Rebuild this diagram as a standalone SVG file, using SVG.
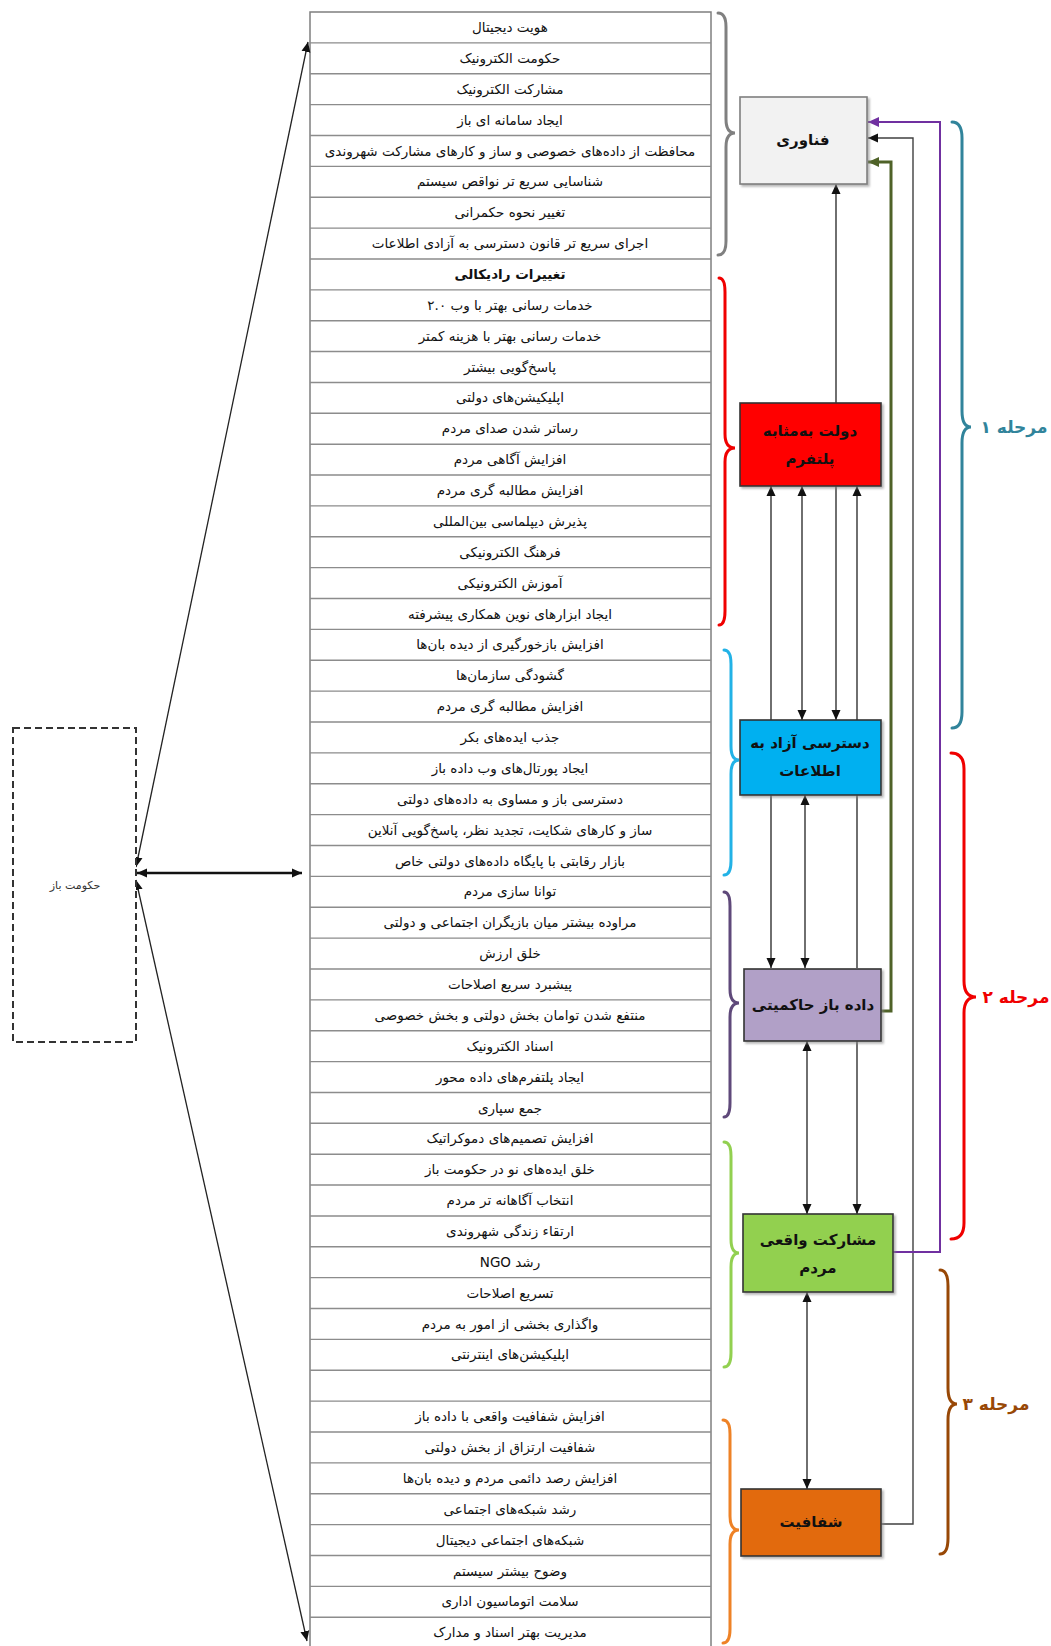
<svg xmlns="http://www.w3.org/2000/svg" width="1051" height="1646" viewBox="0 0 1051 1646">
<style>
text{font-family:"DejaVu Sans","Noto Sans",sans-serif;direction:rtl;text-anchor:middle}
.row{font-size:13.5px;fill:#111}
.lbl{font-size:15px;font-weight:bold;fill:#111}
.stg{font-size:17px;font-weight:bold}
.box{stroke:#333;stroke-width:1.6;filter:url(#sh)}
.br{fill:none;stroke-width:3;stroke-linecap:round}
.ln{fill:none;stroke:#222;stroke-width:1.3}
</style>
<defs>
<filter id="sh" x="-10%" y="-10%" width="125%" height="130%"><feDropShadow dx="2" dy="2" stdDeviation="1.2" flood-color="#888" flood-opacity="0.6"/></filter>
<marker id="ah" viewBox="0 0 10 10" refX="10" refY="5" markerWidth="10" markerHeight="10" markerUnits="userSpaceOnUse" orient="auto-start-reverse"><path d="M0,0.5 L10,5 L0,9.5 Z" fill="#111"/></marker>
<marker id="ahg" viewBox="0 0 10 10" refX="10" refY="5" markerWidth="11" markerHeight="11" markerUnits="userSpaceOnUse" orient="auto"><path d="M0,0.5 L10,5 L0,9.5 Z" fill="#4f6228"/></marker>
<marker id="ahp" viewBox="0 0 10 10" refX="10" refY="5" markerWidth="11" markerHeight="11" markerUnits="userSpaceOnUse" orient="auto"><path d="M0,0.5 L10,5 L0,9.5 Z" fill="#7030a0"/></marker>
</defs>
<rect width="1051" height="1646" fill="#fff"/>

<g id="table">
<rect x="310" y="12" width="401" height="1650" fill="#fff" stroke="#7f7f7f" stroke-width="1.5"/>
<path fill="none" stroke="#8c8c8c" stroke-width="1.4" d="M310 42.87H711M310 73.74H711M310 104.61H711M310 135.48H711M310 166.35H711M310 197.22H711M310 228.09H711M310 258.96H711M310 289.83H711M310 320.7H711M310 351.57H711M310 382.44H711M310 413.31H711M310 444.18H711M310 475.05H711M310 505.92H711M310 536.79H711M310 567.66H711M310 598.53H711M310 629.4H711M310 660.27H711M310 691.14H711M310 722.01H711M310 752.88H711M310 783.75H711M310 814.62H711M310 845.49H711M310 876.36H711M310 907.23H711M310 938.1H711M310 968.97H711M310 999.84H711M310 1030.71H711M310 1061.58H711M310 1092.45H711M310 1123.32H711M310 1154.19H711M310 1185.06H711M310 1215.93H711M310 1246.8H711M310 1277.67H711M310 1308.54H711M310 1339.41H711M310 1370.28H711M310 1401.15H711M310 1432.02H711M310 1462.89H711M310 1493.76H711M310 1524.63H711M310 1555.5H711M310 1586.37H711M310 1617.24H711"/>
<g class="row">
<text x="510" y="32">هویت دیجیتال</text>
<text x="510" y="62.9">حکومت الکترونیک</text>
<text x="510" y="93.7">مشارکت الکترونیک</text>
<text x="510" y="124.6">ایجاد سامانه ای باز</text>
<text x="510" y="155.5">محافظت از داده‌های خصوصی و ساز و کارهای مشارکت شهروندی</text>
<text x="510" y="186.4">شناسایی سریع تر نواقص سیستم</text>
<text x="510" y="217.2">تغییر نحوه حکمرانی</text>
<text x="510" y="248.1">اجرای سریع تر قانون دسترسی به آزادی اطلاعات</text>
<text x="510" y="279" font-weight="bold">تغییرات رادیکالی</text>
<text x="510" y="309.8">خدمات رسانی بهتر با وب ۲.۰</text>
<text x="510" y="340.7">خدمات رسانی بهتر با هزینه کمتر</text>
<text x="510" y="371.6">پاسخ‌گویی بیشتر</text>
<text x="510" y="402.4">اپلیکیشن‌های دولتی</text>
<text x="510" y="433.3">رساتر شدن صدای مردم</text>
<text x="510" y="464.2">افزایش آگاهی مردم</text>
<text x="510" y="495.1">افزایش مطالبه گری مردم</text>
<text x="510" y="525.9">پذیرش دیپلماسی بین‌المللی</text>
<text x="510" y="556.8">فرهنگ الکترونیکی</text>
<text x="510" y="587.7">آموزش الکترونیکی</text>
<text x="510" y="618.5">ایجاد ابزارهای نوین همکاری پیشرفته</text>
<text x="510" y="649.4">افزایش بازخورگیری از دیده بان‌ها</text>
<text x="510" y="680.3">گشودگی سازمان‌ها</text>
<text x="510" y="711.1">افزایش مطالبه گری مردم</text>
<text x="510" y="742">جذب ایده‌های بکر</text>
<text x="510" y="772.9">ایجاد پورتال‌های وب داده باز</text>
<text x="510" y="803.8">دسترسی باز و مساوی به داده‌های دولتی</text>
<text x="510" y="834.6">ساز و کارهای شکایت، تجدید نظر، پاسخ‌گویی آنلاین</text>
<text x="510" y="865.5">بازار رقابتی با پایگاه داده‌های دولتی خاص</text>
<text x="510" y="896.4">توانا سازی مردم</text>
<text x="510" y="927.2">مراوده بیشتر میان بازیگران اجتماعی و دولتی</text>
<text x="510" y="958.1">خلق ارزش</text>
<text x="510" y="989">پیشبرد سریع اصلاحات</text>
<text x="510" y="1019.8">منتفع شدن توامان بخش دولتی و بخش خصوصی</text>
<text x="510" y="1050.7">اسناد الکترونیک</text>
<text x="510" y="1081.6">ایجاد پلتفرم‌های داده محور</text>
<text x="510" y="1112.5">جمع سپاری</text>
<text x="510" y="1143.3">افزایش تصمیم‌های دموکراتیک</text>
<text x="510" y="1174.2">خلق ایده‌های نو در حکومت باز</text>
<text x="510" y="1205.1">انتخاب آگاهانه تر مردم</text>
<text x="510" y="1235.9">ارتقاء زندگی شهروندی</text>
<text x="510" y="1266.8">رشد NGO</text>
<text x="510" y="1297.7">تسریع اصلاحات</text>
<text x="510" y="1328.5">واگذاری بخشی از امور به مردم</text>
<text x="510" y="1359.4">اپلیکیشن‌های اینترنتی</text>
<text x="510" y="1421.2">افزایش شفافیت واقعی با داده باز</text>
<text x="510" y="1452">شفافیت ارتزاق از بخش دولتی</text>
<text x="510" y="1482.9">افزایش رصد دائمی مردم و دیده بان‌ها</text>
<text x="510" y="1513.8">رشد شبکه‌های اجتماعی</text>
<text x="510" y="1544.6">شبکه‌های اجتماعی دیجیتال</text>
<text x="510" y="1575.5">وضوح بیشتر سیستم</text>
<text x="510" y="1606.4">سلامت اتوماسیون اداری</text>
<text x="510" y="1637.2">مدیریت بهتر اسناد و مدارک</text>
</g>
</g>

<g id="braces">
<path class="br" stroke="#808080" d="M718 13 Q726 13 726 27 V119 Q726 133 735 133 Q726 133 726 147 V241 Q726 255 718 255"/>
<path class="br" stroke="#f00000" d="M719 278 Q725 278 725 292 V434 Q725 448 735 448 Q725 448 725 462 V611 Q725 625 719 625"/>
<path class="br" stroke="#22b2e6" d="M724 650 Q731 650 731 664 V746 Q731 760 739 760 Q731 760 731 774 V861 Q731 875 724 875"/>
<path class="br" stroke="#5f497a" d="M724 892 Q730 892 730 906 V989 Q730 1003 739 1003 Q730 1003 730 1017 V1103 Q730 1117 724 1117"/>
<path class="br" stroke="#92d050" d="M724 1142 Q731 1142 731 1156 V1239 Q731 1253 739 1253 Q731 1253 731 1267 V1353 Q731 1367 724 1367"/>
<path class="br" stroke="#ee8226" d="M723 1420 Q730 1420 730 1434 V1516 Q730 1530 739 1530 Q730 1530 730 1544 V1629 Q730 1643 723 1643"/>
<path class="br" stroke="#31849b" d="M952 122 Q962 122 962 138 V411 Q962 427 971 427 Q962 427 962 443 V712 Q962 728 952 728"/>
<path class="br" stroke="#f00000" d="M951 753 Q964 753 964 769 V981 Q964 997 976 997 Q964 997 964 1013 V1223 Q964 1239 951 1239"/>
<path class="br" stroke="#984806" d="M940 1270 Q948 1270 948 1286 V1388 Q948 1404 957 1404 Q948 1404 948 1420 V1538 Q948 1554 940 1554"/>
</g>

<g id="stages">
<text class="stg" x="1014" y="433" fill="#31849b">مرحله ۱</text>
<text class="stg" x="1016" y="1003" fill="#f00000">مرحله ۲</text>
<text class="stg" x="996" y="1410" fill="#984806">مرحله ۳</text>
</g>

<g id="connectors">
<line x1="137" y1="873" x2="302" y2="873" stroke="#111" stroke-width="2.5" marker-start="url(#ah)" marker-end="url(#ah)"/>
<line class="ln" x1="136" y1="867" x2="308" y2="42" marker-start="url(#ah)" marker-end="url(#ah)"/>
<line class="ln" x1="136" y1="880" x2="307" y2="1641" marker-start="url(#ah)" marker-end="url(#ah)"/>
<line class="ln" x1="836" y1="403" x2="836" y2="184" marker-end="url(#ah)"/>
<line class="ln" x1="771" y1="486" x2="771" y2="968" marker-start="url(#ah)" marker-end="url(#ah)"/>
<line class="ln" x1="802" y1="486" x2="802" y2="720" marker-start="url(#ah)" marker-end="url(#ah)"/>
<line class="ln" x1="836" y1="486" x2="836" y2="720" marker-end="url(#ah)"/>
<line class="ln" x1="857" y1="968" x2="857" y2="486" marker-end="url(#ah)"/>
<line class="ln" x1="805" y1="795" x2="805" y2="968" marker-start="url(#ah)" marker-end="url(#ah)"/>
<line class="ln" x1="857" y1="1041" x2="857" y2="1214" marker-end="url(#ah)"/>
<line class="ln" x1="807" y1="1041" x2="807" y2="1214" marker-start="url(#ah)" marker-end="url(#ah)"/>
<line class="ln" x1="807" y1="1292" x2="807" y2="1489" marker-start="url(#ah)" marker-end="url(#ah)"/>
<polyline fill="none" stroke="#4f6228" stroke-width="3" points="881,1011 891,1011 891,162 868,162" marker-end="url(#ahg)"/>
<polyline fill="none" stroke="#404040" stroke-width="1.4" points="881,1524 913,1524 913,138 868,138" marker-end="url(#ah)"/>
<polyline fill="none" stroke="#7030a0" stroke-width="2" points="893,1252 940,1252 940,122 868,122" marker-end="url(#ahp)"/>
</g>

<g id="n-openGov">
<rect x="13" y="728" width="123" height="314" fill="#fff" stroke="#333" stroke-width="2" stroke-dasharray="7,4"/>
<text x="75" y="889" font-size="11" fill="#333">حکومت باز</text>
</g>
<g id="n-tech">
<rect class="box" x="740" y="97" width="127" height="87" fill="#f2f2f2" style="stroke:#7f7f7f"/>
<text class="lbl" x="803" y="145">فناوری</text>
</g>
<g id="n-platform">
<rect class="box" x="740" y="403" width="141" height="83" fill="#ff0000"/>
<text class="lbl" x="810" y="436">دولت به‌مثابه</text>
<text class="lbl" x="810" y="464">پلتفرم</text>
</g>
<g id="n-access">
<rect class="box" x="740" y="720" width="141" height="75" fill="#00b0f0"/>
<text class="lbl" x="810" y="748">دسترسی آزاد به</text>
<text class="lbl" x="810" y="776">اطلاعات</text>
</g>
<g id="n-opendata">
<rect class="box" x="744" y="969" width="137" height="72" fill="#b1a0c7"/>
<text class="lbl" x="813" y="1010">داده باز حاکمیتی</text>
</g>
<g id="n-participation">
<rect class="box" x="743" y="1214" width="150" height="78" fill="#92d050"/>
<text class="lbl" x="818" y="1245">مشارکت واقعی</text>
<text class="lbl" x="818" y="1273">مردم</text>
</g>
<g id="n-transparency">
<rect class="box" x="741" y="1489" width="140" height="67" fill="#e26b0a"/>
<text class="lbl" x="811" y="1527">شفافیت</text>
</g>
</svg>
